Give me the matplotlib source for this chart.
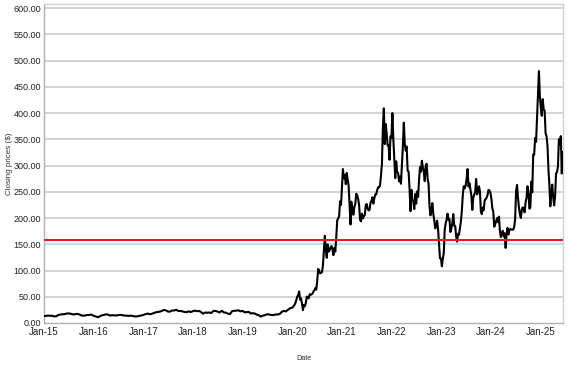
import matplotlib
matplotlib.use("Agg")
import matplotlib.pyplot as plt
import matplotlib.dates as mdates
import matplotlib.ticker as mticker
import pandas as pd
import numpy as np

# 2015-2019, semi-monthly closes (split-adjusted, $)
p2015 = [13.0, 13.6, 14.2, 13.6, 13.9, 12.6, 12.8, 15.1, 16.1, 16.7, 16.8, 17.9,
         18.3, 17.7, 16.4, 16.6, 17.5, 16.6, 14.7, 13.8, 14.3, 15.4, 15.3, 16.0]
p2016 = [13.6, 12.7, 10.9, 12.7, 14.6, 15.3, 16.5, 16.0, 14.2, 14.9, 14.6, 14.2,
         15.2, 15.6, 14.9, 14.2, 13.9, 13.6, 13.9, 13.3, 12.5, 12.6, 13.5, 14.2]
p2017 = [15.2, 16.8, 18.0, 16.7, 17.2, 18.6, 20.3, 20.9, 21.6, 22.7, 25.0, 24.1,
         21.8, 21.6, 23.9, 23.8, 25.2, 22.7, 23.0, 22.1, 21.0, 20.6, 22.3, 20.8]
p2018 = [22.6, 23.6, 22.4, 22.9, 21.0, 17.7, 19.9, 19.6, 20.0, 19.0, 23.0, 22.9,
         21.8, 19.9, 23.5, 20.2, 19.6, 17.7, 17.1, 22.5, 23.3, 23.4, 24.3, 22.2]
p2019 = [23.1, 20.5, 20.7, 21.3, 18.1, 18.7, 18.0, 15.9, 14.6, 12.3, 14.3, 14.9,
         16.8, 16.1, 15.3, 15.0, 16.3, 16.1, 17.2, 21.0, 23.2, 22.0, 25.3, 27.9]

# 2020-2025, weekly closes (split-adjusted, $)
w2020 = [29.5, 31.9, 34.2, 37.6, 43.4,
         49.9, 53.5, 60.1, 44.5,
         47.0, 36.4, 24.5, 34.3,
         32.1, 38.2, 50.3, 48.3,
         47.0, 54.6, 53.6, 54.6, 55.7,
         59.9, 62.4, 66.6, 63.6,
         80.6, 103.0, 100.1, 94.5, 95.4,
         96.8, 110.0, 136.7, 166.1,
         139.4, 124.2, 149.8, 136.0,
         138.4, 144.7, 146.6, 140.4, 129.3,
         143.3, 136.0, 163.2, 195.3,
         199.3, 203.3, 231.7, 225.0]
w2021 = [293.3, 275.4, 282.2, 264.5,
         285.9, 272.8, 261.8, 225.2,
         187.7, 231.2, 218.3, 206.2,
         220.6, 226.8, 246.3, 243.3, 236.5,
         224.7, 196.6, 193.7, 208.4,
         199.3, 203.3, 206.1, 224.5,
         226.6, 218.0, 214.4, 215.7, 229.1,
         233.0, 239.5, 227.5, 237.8,
         244.7, 245.0, 253.2, 258.4,
         258.4, 262.0, 281.0, 303.2, 371.3,
         409.0, 340.8, 379.0, 360.6,
         338.3, 339.0, 310.9, 355.7, 352.3]
w2022 = [399.9, 349.9, 314.6, 276.0,
         308.0, 287.5, 285.7, 269.9,
         279.0, 265.3, 302.0, 336.9,
         381.8, 341.8, 328.3, 336.3, 290.3,
         288.5, 256.5, 213.0, 253.7,
         234.5, 232.2, 217.0, 245.7,
         227.3, 250.8, 240.1, 272.2, 297.1,
         288.2, 309.0, 296.7, 288.1,
         270.2, 299.7, 303.4, 275.3, 265.3,
         223.1, 204.99, 214.4, 228.5,
         207.5, 195.97, 180.2, 182.9,
         194.9, 179.05, 150.2, 123.15, 123.2]
w2023 = [108.1, 122.4, 133.4, 177.9,
         189.98, 196.9, 208.3, 196.9,
         197.8, 173.4, 180.1, 190.4, 207.5,
         185.0, 185.0, 165.1, 155.0,
         170.1, 167.98, 180.1, 193.2,
         213.97, 244.4, 260.5, 256.6, 261.8,
         274.4, 293.3, 260.0, 266.4,
         253.9, 242.7, 215.5, 238.6,
         245.0, 248.5, 274.4, 244.9, 250.2,
         260.5, 251.1, 211.99, 207.3,
         219.96, 214.7, 234.3, 235.5,
         238.8, 243.8, 253.5, 252.5, 248.5]
w2024 = [237.5, 218.9, 212.2, 183.3,
         187.9, 193.6, 199.95, 191.97,
         202.6, 175.3, 163.6, 170.8, 175.8,
         164.9, 171.1, 143.0, 168.3,
         181.2, 168.5, 177.5, 179.2, 178.1,
         177.5, 178.0, 183.0, 197.9,
         251.5, 263.0, 239.2, 219.8,
         207.7, 200.0, 216.1, 220.3, 214.1,
         210.7, 230.3, 238.3, 260.5,
         250.1, 217.8, 220.7, 269.2,
         248.98, 321.2, 320.7, 352.6, 345.2,
         389.2, 436.2, 479.9, 431.7]
w2025 = [410.4, 394.7, 426.5, 406.6, 404.6,
         361.6, 355.8, 337.8, 292.98,
         262.7, 222.2, 248.7, 263.6,
         239.4, 224.0, 241.4, 284.95,
         287.2, 298.3, 349.98, 339.3, 356.0,
         284.7, 325.3]

reference_price = 158.0

y_ticks = np.arange(0, 601, 50)

# ---- build series ----
early_vals = p2015 + p2016 + p2017 + p2018 + p2019
early_dates = pd.date_range("2015-01-01", "2019-12-31", freq="SMS")
parts_d = [early_dates]
parts_v = [early_vals]
for start, vals in [("2020-01-03", w2020), ("2021-01-08", w2021), ("2022-01-07", w2022),
                    ("2023-01-06", w2023), ("2024-01-05", w2024), ("2025-01-03", w2025)]:
    parts_d.append(pd.date_range(start, periods=len(vals), freq="7D"))
    parts_v.append(vals)
dates = np.concatenate([d.values for d in parts_d])
values = np.concatenate([np.array(v, dtype=float) for v in parts_v])

plt.rcParams["font.family"] = ["Liberation Sans", "DejaVu Sans"]

fig = plt.figure(figsize=(5.77, 3.67), dpi=100)
ax = fig.add_axes([0.0763, 0.1199, 0.8994, 0.869])

ax.set_ylim(0, 607.6)
ax.set_xlim(pd.Timestamp("2015-01-01"), pd.Timestamp("2025-06-15"))

for yv in y_ticks:
    if yv == 0:
        continue
    c = "#b6d3e0" if yv == 150 else "#c8c8c8"
    ax.axhline(yv, color=c, lw=1.1, zorder=1)

ax.plot(dates, values, color="black", lw=1.5, zorder=3)
ax.axhline(reference_price, color="#e8191c", lw=1.5, zorder=4)

ax.set_yticks(y_ticks)
ax.yaxis.set_major_formatter(mticker.FormatStrFormatter("%.2f"))
ax.xaxis.set_major_locator(mdates.YearLocator())
ax.xaxis.set_major_formatter(mdates.DateFormatter("%b-%y"))
ax.tick_params(axis="y", length=0, labelsize=6.5, colors="#222222", pad=2)
ax.tick_params(axis="x", length=0, labelsize=7, colors="#222222", pad=3)

for s in ["left", "bottom", "right", "top"]:
    ax.spines[s].set_color("#b0b0b0")
    ax.spines[s].set_linewidth(1.0)
ax.spines["top"].set_color("#d0d0d0")
ax.spines["right"].set_color("#d0d0d0")

ax.set_ylabel("Closing prices ($)", fontsize=5.8, color="#333333", va="center")
ax.yaxis.set_label_coords(-0.067, 0.5)
ax.set_xlabel("Date", fontsize=5.2, color="#333333", va="center")
ax.xaxis.set_label_coords(0.5, -0.11)

fig.savefig("out.png", dpi=100)
